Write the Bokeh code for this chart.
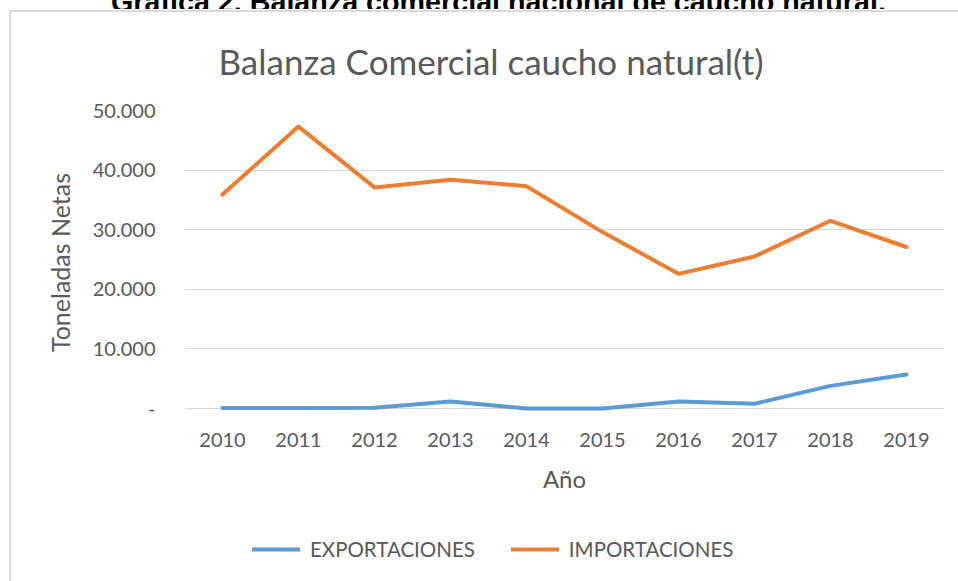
from bokeh.plotting import figure
from bokeh.layouts import column
from bokeh.models import FactorRange, Range1d, FixedTicker, Legend, LegendItem, Div
from bokeh.embed import file_html
from bokeh.resources import INLINE

years = ["2010", "2011", "2012", "2013", "2014", "2015", "2016", "2017", "2018", "2019"]
exportaciones = [100, 100, 150, 1200, 0, 0, 1200, 800, 3800, 5700]
importaciones = [35900, 47300, 37100, 38400, 37300, 29600, 22600, 25500, 31500, 27100]
y_ticks = [0, 10000, 20000, 30000, 40000, 50000]
y_tick_labels = ["-", "10.000", "20.000", "30.000", "40.000", "50.000"]
series_names = ["EXPORTACIONES", "IMPORTACIONES"]
series_colors = ["#5B9BD5", "#ED7D31"]
caption_text = "Gráfica 2. Balanza comercial nacional de caucho natural."

FONT = "Lato"
GREY = "#595959"

# clipped caption strip at the very top
caption = Div(text='<div style="margin-top:-18px; margin-left:111px; white-space:nowrap; line-height:1; '
                   'font-family:\'Liberation Sans\'; font-weight:bold; font-size:28.7px; color:#000;">'
                   + caption_text + '</div>',
              width=958, height=9, margin=0, styles={"overflow": "hidden"})

p = figure(width=958, height=491, x_range=FactorRange(*years), y_range=Range1d(-1000, 50000),
           output_backend="svg", toolbar_location=None,
           min_border_left=184, min_border_right=14, min_border_top=101, min_border_bottom=86)

p.title.text = "Balanza Comercial caucho natural(t)"
p.title.text_font = FONT
p.title.text_font_size = "35px"
p.title.text_font_style = "normal"
p.title.text_color = GREY
p.title.align = "left"
p.title.offset = 34
p.title.standoff = 57

p.outline_line_color = None
p.xgrid.grid_line_color = None
p.ygrid.grid_line_color = "#d9d9d9"
p.ygrid.grid_line_width = 1

p.yaxis.ticker = FixedTicker(ticks=y_ticks)
p.yaxis.major_label_overrides = {t: l for t, l in zip(y_ticks, y_tick_labels)}
for ax in (p.xaxis[0], p.yaxis[0]):
    ax.axis_line_color = None
    ax.major_tick_line_color = None
    ax.minor_tick_line_color = None
    ax.major_label_text_font = FONT
    ax.major_label_text_font_size = "20px"
    ax.major_label_text_color = GREY
    ax.axis_label_text_font = FONT
    ax.axis_label_text_font_size = "24px"
    ax.axis_label_text_font_style = "normal"
    ax.axis_label_text_color = GREY
p.yaxis.axis_label_text_font_size = "25px"
p.yaxis.major_label_standoff = 23
p.xaxis.major_label_standoff = 12
p.yaxis.axis_label = "Toneladas Netas"
p.xaxis.axis_label = "Año"
p.yaxis.axis_label_standoff = 15
p.xaxis.axis_label_standoff = 14

p.line(years, exportaciones, line_color=series_colors[0], line_width=4, line_cap="round", line_join="round")
p.line(years, importaciones, line_color=series_colors[1], line_width=4, line_cap="round", line_join="round")

# legend strip below the chart
p2 = figure(width=958, height=81, x_range=p.x_range, y_range=Range1d(1e6, 2e6),
            output_backend="svg", toolbar_location=None, x_axis_location=None, y_axis_location=None,
            min_border_left=0, min_border_right=0, min_border_top=0, min_border_bottom=0)
p2.grid.visible = False
p2.outline_line_color = None
l_exp = p2.line(years, exportaciones, line_color=series_colors[0], line_width=4, line_cap="round")
l_imp = p2.line(years, importaciones, line_color=series_colors[1], line_width=4, line_cap="round")
legend = Legend(items=[LegendItem(label=series_names[0], renderers=[l_exp]),
                       LegendItem(label=series_names[1], renderers=[l_imp])],
                orientation="horizontal", location=(68, 20),
                glyph_width=48, glyph_height=24, label_standoff=10, spacing=36,
                padding=0, margin=0, border_line_color=None, background_fill_alpha=0,
                label_text_font=FONT, label_text_font_size="20.5px", label_text_color=GREY)
p2.add_layout(legend)

layout = column(caption, p, p2, spacing=0)
layout.stylesheets = [":host::after { content: ''; position: absolute; left: 9px; top: 10px; right: 0; bottom: 0;"
                      " border-left: 2.5px solid #d9d9d9; border-top: 2.5px solid #d9d9d9; pointer-events: none; }"]

open("out.html", "w").write(file_html(layout, INLINE))
